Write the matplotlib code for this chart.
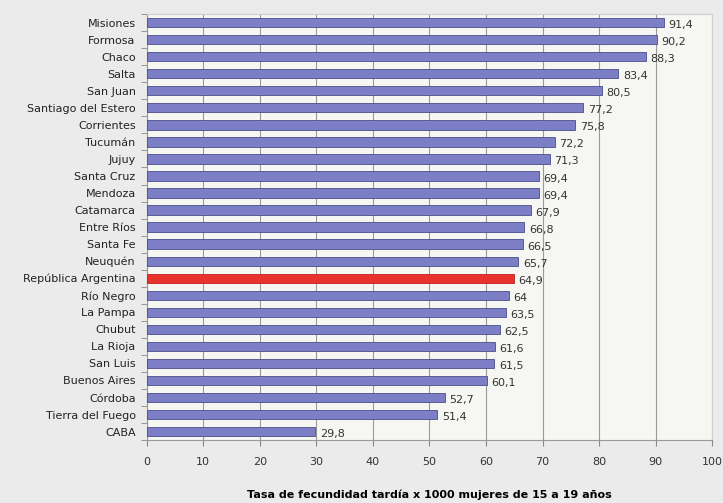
import numpy as np
import matplotlib.pyplot as plt

provincias = ["Misiones", "Formosa", "Chaco", "Salta", "San Juan", "Santiago del Estero",
              "Corrientes", "Tucumán", "Jujuy", "Santa Cruz", "Mendoza", "Catamarca",
              "Entre Ríos", "Santa Fe", "Neuquén", "República Argentina", "Río Negro",
              "La Pampa", "Chubut", "La Rioja", "San Luis", "Buenos Aires", "Córdoba",
              "Tierra del Fuego", "CABA"]
tasas = [91.4, 90.2, 88.3, 83.4, 80.5, 77.2, 75.8, 72.2, 71.3, 69.4, 69.4, 67.9,
         66.8, 66.5, 65.7, 64.9, 64, 63.5, 62.5, 61.6, 61.5, 60.1, 52.7, 51.4, 29.8]
etiquetas = ["91,4", "90,2", "88,3", "83,4", "80,5", "77,2", "75,8", "72,2", "71,3",
             "69,4", "69,4", "67,9", "66,8", "66,5", "65,7", "64,9", "64", "63,5",
             "62,5", "61,6", "61,5", "60,1", "52,7", "51,4", "29,8"]
x_ticks = [0, 10, 20, 30, 40, 50, 60, 70, 80, 90, 100]

fig = plt.figure(figsize=(7.23, 5.03), dpi=100, facecolor="#ebebeb")
ax = fig.add_axes([0.203, 0.125, 0.782, 0.847])
ax.set_facecolor("#f6f6f2")

y = np.arange(len(provincias))
colores = ["#e8322c" if p == "República Argentina" else "#7c7fc6" for p in provincias]
bordes = ["#c02020" if p == "República Argentina" else "#4a4d8a" for p in provincias]
ax.barh(y, tasas, height=0.55, color=colores, edgecolor=bordes, linewidth=0.6, zorder=3)

for yi, v, t in zip(y, tasas, etiquetas):
    ax.text(v + 0.8, yi + 0.15, t, va="center", ha="left", fontsize=8, color="#333333")

ax.set_ylim(len(provincias) - 0.5, -0.5)
ax.set_xlim(0, 100)
ax.set_yticks(y)
ax.set_yticklabels(provincias, fontsize=8, color="#222222")
ax.set_yticks(np.arange(-0.5, len(provincias), 1), minor=True)
ax.tick_params(axis="y", which="major", length=0, pad=8)
ax.tick_params(axis="y", which="minor", length=4, color="#888888")
ax.set_xticks(x_ticks)
ax.set_xticklabels([str(v) for v in x_ticks], fontsize=8, color="#333333")
ax.tick_params(axis="x", length=4, color="#888888", pad=8)

ax.grid(axis="x", color="#9a9a9a", linewidth=0.8, zorder=0)
for s in ["top", "right"]:
    ax.spines[s].set_color("#cfcfcf")
for s in ["left", "bottom"]:
    ax.spines[s].set_color("#999999")

ax.set_xlabel("Tasa de fecundidad tardía x 1000 mujeres de 15 a 19 años",
              fontsize=8, fontweight="bold", labelpad=16)

fig.savefig("out.png", dpi=100, facecolor=fig.get_facecolor())
